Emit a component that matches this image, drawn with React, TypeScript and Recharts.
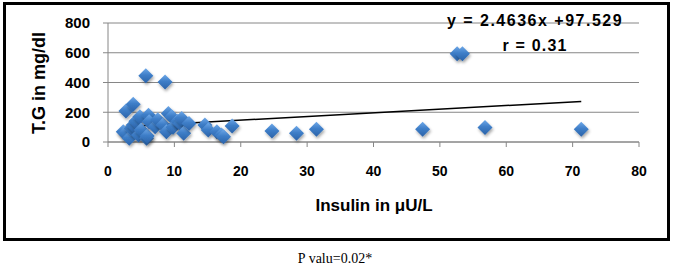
import React from "react";
import {
  ScatterChart,
  Scatter,
  XAxis,
  YAxis,
  CartesianGrid,
  ReferenceLine,
} from "recharts";

const insulin = [
  2.3, 2.6, 2.7, 3.2, 3.5, 3.8, 3.8, 4.2, 4.6, 4.8, 5.0, 5.7, 5.8, 5.9, 6.1,
  6.2, 7.1, 7.5, 8.3, 8.6, 8.8, 9.1, 9.6, 9.8, 10.5, 10.9, 11.1, 11.4, 12.2,
  14.6, 15.1, 16.4, 17.1, 17.4, 18.7, 24.7, 28.4, 31.4, 47.4, 52.6, 53.4,
  56.8, 71.3,
];
const triglyceride = [
  69, 58, 209, 25, 90, 254, 114, 140, 47, 169, 80, 445, 25, 40, 180, 136, 102,
  150, 114, 403, 69, 192, 169, 100, 140, 125, 158, 58, 125, 114, 80, 69, 47,
  35, 107, 74, 58, 85, 85, 593, 593, 98, 85,
];

const xTicks = [0, 10, 20, 30, 40, 50, 60, 70, 80];
const yTicks = [0, 200, 400, 600, 800];

// trend line ends
const trendStart = { x: 2.3, y: 103 };
const trendEnd = { x: 71.3, y: 273 };

const points = insulin.map((x, i) => ({ x, y: triglyceride[i] }));

const FONT = '"Liberation Sans", Arial, sans-serif';
const AXIS_GRAY = "#868686";

function Diamond(props: any) {
  const { cx, cy } = props;
  const r = 7.5;
  return (
    <path
      d={`M${cx},${cy - r} L${cx + r},${cy} L${cx},${cy + r} L${cx - r},${cy} Z`}
      fill="url(#diamondFill)"
      filter="url(#diamondShadow)"
    />
  );
}

export default function App() {
  return (
    <div
      style={{
        position: "absolute",
        left: 0,
        top: 0,
        width: 675,
        height: 270,
        background: "#fff",
        fontFamily: FONT,
      }}
    >
      <div
        style={{
          position: "absolute",
          left: 3,
          top: 2,
          width: 661,
          height: 233,
          border: "3px solid #000",
        }}
      />
      <div style={{ position: "absolute", left: 0, top: 0 }}>
        <ScatterChart
          width={675}
          height={240}
          margin={{ top: 23, right: 36, bottom: 68, left: 48 }}
        >
          <defs>
            <linearGradient id="diamondFill" x1="0" y1="0" x2="0" y2="1">
              <stop offset="0%" stopColor="#6ea8e8" />
              <stop offset="45%" stopColor="#3e7ec8" />
              <stop offset="100%" stopColor="#2a62a8" />
            </linearGradient>
            <filter id="diamondShadow" x="-50%" y="-50%" width="200%" height="200%">
              <feDropShadow dx="1" dy="2" stdDeviation="1.5" floodColor="#000" floodOpacity="0.35" />
            </filter>
          </defs>
          <CartesianGrid vertical={false} stroke={AXIS_GRAY} />
          <XAxis
            type="number"
            dataKey="x"
            domain={[0, 80]}
            ticks={xTicks}
            height={30}
            axisLine={{ stroke: AXIS_GRAY }}
            tickLine={{ stroke: AXIS_GRAY }}
            tickSize={5}
            tickMargin={19}
            tick={{ fontSize: 14, fontWeight: 700, fill: "#000", fontFamily: FONT }}
          />
          <YAxis
            type="number"
            dataKey="y"
            domain={[0, 800]}
            ticks={yTicks}
            width={60}
            axisLine={{ stroke: AXIS_GRAY }}
            tickLine={{ stroke: AXIS_GRAY }}
            tickSize={5}
            tickMargin={13}
            tick={{ fontSize: 15, fontWeight: 700, fill: "#000", fontFamily: FONT }}
          />
          <Scatter data={points} shape={Diamond} isAnimationActive={false} />
          <ReferenceLine
            segment={[trendStart, trendEnd]}
            stroke="#000"
            strokeWidth={1.5}
          />
        </ScatterChart>
      </div>
      <svg
        width={675}
        height={270}
        style={{ position: "absolute", left: 0, top: 0, pointerEvents: "none" }}
      >
        <text
          x={535}
          y={26}
          textAnchor="middle"
          fontSize={16}
          fontWeight={700}
          letterSpacing={1.5}
          fontFamily={FONT}
        >
          y = 2.4636x +97.529
        </text>
        <text
          x={535}
          y={51}
          textAnchor="middle"
          fontSize={16}
          fontWeight={700}
          letterSpacing={1.2}
          fontFamily={FONT}
        >
          r = 0.31
        </text>
        <text
          x={374}
          y={211}
          textAnchor="middle"
          fontSize={17}
          fontWeight={700}
          fontFamily={FONT}
        >
          Insulin in μU/L
        </text>
        <text
          x={0}
          y={0}
          transform="translate(45,83) rotate(-90)"
          textAnchor="middle"
          fontSize={18}
          fontWeight={700}
          fontFamily={FONT}
        >
          T.G in mg/dl
        </text>
        <text
          x={335}
          y={263}
          textAnchor="middle"
          fontSize={14}
          fontFamily='"Liberation Serif", "Times New Roman", serif'
        >
          P valu=0.02*
        </text>
      </svg>
    </div>
  );
}
